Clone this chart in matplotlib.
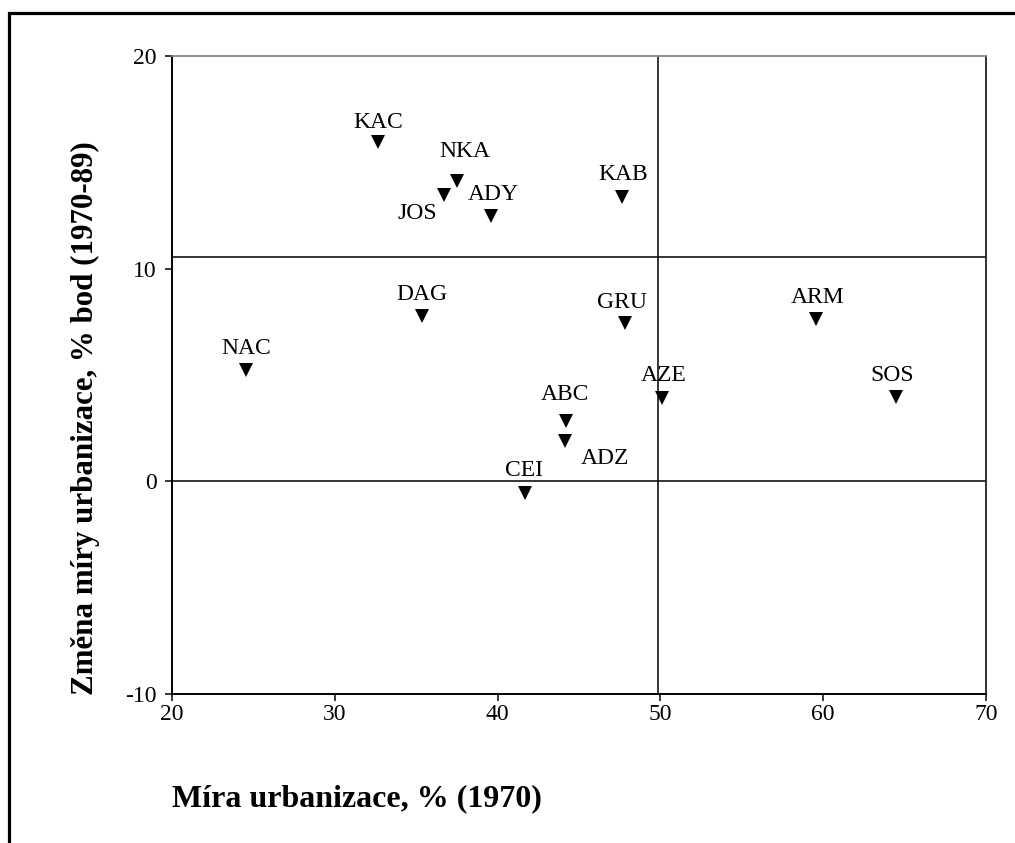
import matplotlib
matplotlib.use("Agg")
import matplotlib.pyplot as plt
from matplotlib.patches import Rectangle

# ---- data ----
labels = ["KAC", "NKA", "JOS", "ADY", "KAB", "DAG", "GRU", "ARM", "NAC", "AZE", "SOS", "ABC", "ADZ", "CEI"]
urban_1970 = [32.63, 37.48, 36.71, 39.58, 47.64, 35.33, 47.84, 59.55, 24.53, 50.10, 64.50, 44.23, 44.16, 41.70]
change_1970_89 = [15.95, 14.14, 13.48, 12.46, 13.37, 7.78, 7.45, 7.65, 5.25, 3.94, 3.95, 2.84, 1.92, -0.55]
x_ticks = [20, 30, 40, 50, 60, 70]
y_ticks = [-10, 0, 10, 20]
ref_x = 49.85
ref_y = [10.55, 0]

# label offsets (points) relative to each marker
label_offsets = {
    "KAC": (0.7, 10.4), "NKA": (5.8, 17.0), "JOS": (-19.0, -17.3), "ADY": (2.2, 11.5),
    "KAB": (1.2, 12.0), "DAG": (0.0, 11.2), "GRU": (-2.2, 10.9), "ARM": (1.4, 11.5),
    "NAC": (0.0, 11.5), "AZE": (1.2, 11.9), "SOS": (-3.2, 11.7), "ABC": (-1.4, 15.3),
    "ADZ": (28.4, -16.8), "CEI": (-1.0, 12.6),
}

plt.rcParams['font.family'] = ['Liberation Serif', 'DejaVu Serif']
plt.rcParams['axes.unicode_minus'] = False

W, H = 1015, 843
fig = plt.figure(figsize=(W / 100, H / 100), dpi=100)
fig.patch.set_facecolor('white')

# outer frame (runs off the right and bottom edges)
fig.patches.append(Rectangle((9.3 / W, -0.1), 1.2, 1.1 - 13.3 / H,
                             transform=fig.transFigure, fill=False,
                             edgecolor='black', linewidth=2.3, clip_on=False))

ax = fig.add_axes([172 / W, 1 - 694 / H, (986 - 172) / W, (694 - 56) / H])

ax.axvline(ref_x, color='black', linewidth=1.1, zorder=1)
for yv in ref_y:
    ax.axhline(yv, color='black', linewidth=1.1, zorder=1)

ax.plot(urban_1970, change_1970_89, linestyle='none', marker='v', markersize=10.5,
        color='black', markeredgewidth=0, zorder=3)

for lab, xv, yv in zip(labels, urban_1970, change_1970_89):
    ax.annotate(lab, (xv, yv), xytext=label_offsets[lab], textcoords='offset points',
                ha='center', va='baseline', fontsize=17, color='black')

ax.set_xlim(20, 70)
ax.set_ylim(-10, 20)
ax.set_xticks(x_ticks)
ax.set_yticks(y_ticks)
ax.tick_params(axis='both', direction='out', length=5, width=1.1, labelsize=17, colors='black')
ax.tick_params(axis='x', pad=2)
ax.tick_params(axis='y', pad=6)

for side in ['left', 'bottom']:
    ax.spines[side].set_linewidth(1.4)
    ax.spines[side].set_color('black')
ax.spines['right'].set_linewidth(1.3)
ax.spines['right'].set_color('#222222')
ax.spines['top'].set_linewidth(1.3)
ax.spines['top'].set_color('#888888')

ax.set_xlabel("Míra urbanizace, % (1970)", fontsize=23, fontweight='bold', loc='left')
ax.xaxis.set_label_coords(0.0, -(806.7 - 694) / 638)
ax.xaxis.label.set_va('baseline')
ax.xaxis.label.set_ha('left')

ax.set_ylabel("Změna míry urbanizace, % bod (1970-89)", fontsize=22.3, fontweight='bold')
ax.yaxis.set_label_coords((85 - 172) / 814, 1 - (418 - 56) / 638)
ax.yaxis.label.set_va('center')
ax.yaxis.label.set_ha('center')

fig.savefig("out.png", dpi=100)
